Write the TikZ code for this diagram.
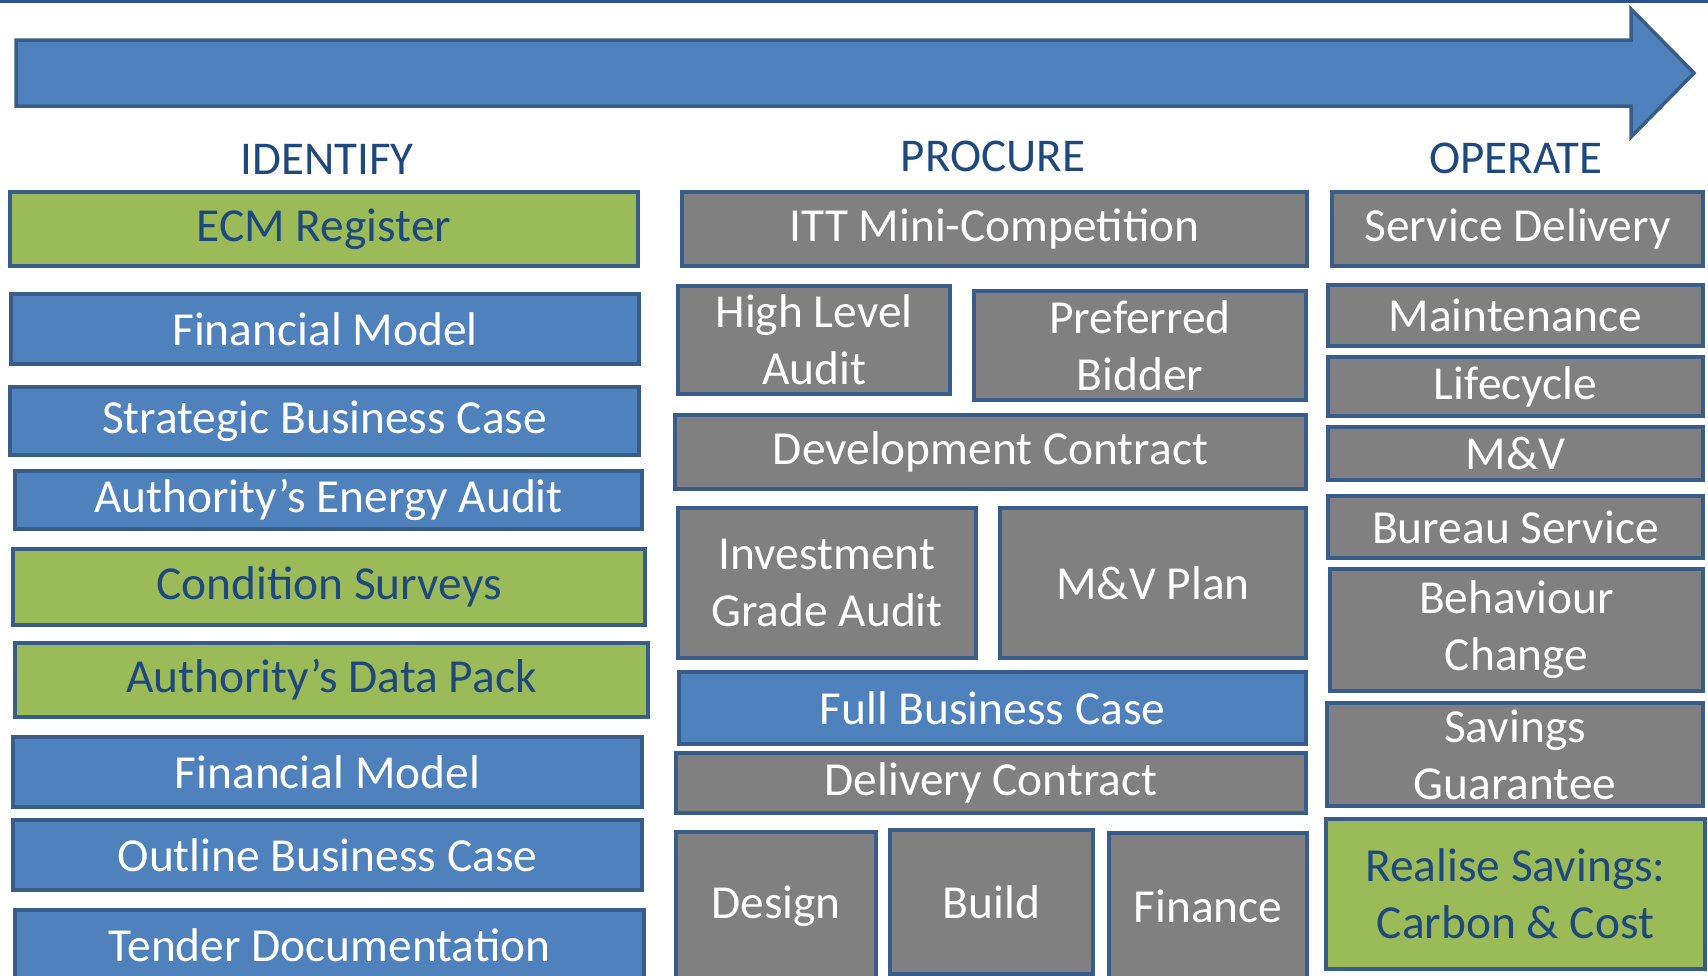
\documentclass[tikz,border=0pt]{standalone}
\usepackage{fontspec}
\setmainfont{Carlito}
\definecolor{bfill}{HTML}{4F81BD}
\definecolor{bdraw}{HTML}{385D8A}
\definecolor{gfill}{HTML}{9BBB59}
\definecolor{grfill}{HTML}{808080}
\definecolor{dtext}{HTML}{1F497D}
\definecolor{topline}{HTML}{2C4F8F}
\newcommand{\bx}[7][]{%
  \node[#1, minimum width={(#5-#3)*0.5pt}, minimum height={(#6-#4)*0.5pt}] (#2) at ({(#3+#5)/2},{(#4+#6)/2}) {#7};}
\begin{document}
\begin{tikzpicture}[x=0.5pt,y=-0.5pt,
  box/.style={draw=bdraw, line width=1.75pt, inner sep=0pt, align=center, font=\fontsize{23.7}{28.5}\selectfont},
  bluebox/.style={box, fill=bfill, text=white},
  greenbox/.style={box, fill=gfill, text=dtext},
  graybox/.style={box, fill=grfill, text=white},
  head/.style={text=dtext, inner sep=0pt, font=\fontsize{23.5}{28.5}\selectfont}]
\useasboundingbox (0,0) rectangle (1708,975);
\clip (0,0) rectangle (1708,975);
\fill[topline] (0,0) rectangle (1708,3);
% arrow
\draw[draw=bdraw, fill=bfill, line width=1.75pt, line join=miter]
  (16,40) -- (1631,40) -- (1631,9) -- (1694,73) -- (1631,137) -- (1631,106) -- (16,106) -- cycle;
% headers
\node[head] (hid) at (327,159) {IDENTIFY};
\node[head] (hpr) at (993,156) {PROCURE};
\node[head] (hop) at (1516,158) {OPERATE};
% IDENTIFY column
\bx[greenbox]{ecm}{10}{192}{638}{266}{ECM Register}
\bx[bluebox]{fm1}{11}{294}{639}{364}{Financial Model}
\bx[bluebox]{sbc}{10}{387}{639}{455}{Strategic Business Case}
\bx[bluebox]{aea}{15}{471}{642}{529}{Authority’s Energy Audit}
\bx[greenbox]{cs}{13}{549}{645}{625}{Condition Surveys}
\bx[greenbox]{adp}{15}{643}{648}{717}{Authority’s Data Pack}
\bx[bluebox]{fm2}{13}{737}{642}{807}{Financial Model}
\bx[bluebox]{obc}{13}{820}{642}{890}{Outline Business Case}
\bx[bluebox]{td}{15}{910}{644}{980}{Tender Documentation}
% PROCURE column
\bx[graybox]{itt}{682}{192}{1307}{266}{ITT Mini-Competition}
\bx[graybox]{hla}{678}{286}{950}{394}{High Level\\Audit}
\bx[graybox]{pb}{974}{291}{1306}{400}{Preferred\\Bidder}
\bx[graybox]{dc}{675}{415}{1306}{489}{Development Contract}
\bx[graybox]{iga}{678}{508}{976}{658}{Investment\\Grade Audit}
\bx[graybox]{mvp}{1000}{508}{1306}{658}{M\&V Plan}
\bx[bluebox]{fbc}{679}{672}{1306}{744}{Full Business Case}
\bx[graybox]{delc}{676}{753}{1306}{813}{Delivery Contract}
\bx[graybox]{des}{676}{832}{876}{980}{Design}
\bx[graybox]{bld}{890}{830}{1093}{974}{Build}
\bx[graybox]{fin}{1109}{833}{1307}{980}{Finance}
% OPERATE column
\bx[graybox]{sd}{1332}{192}{1703}{266}{Service Delivery}
\bx[graybox]{mnt}{1328}{285}{1703}{346}{Maintenance}
\bx[graybox]{lc}{1328}{357}{1703}{416}{Lifecycle}
\bx[graybox]{mv}{1328}{427}{1703}{480}{M\&V}
\bx[graybox]{bs}{1328}{496}{1703}{558}{Bureau Service}
\bx[graybox]{bc}{1330}{569}{1703}{691}{Behaviour\\Change}
\bx[graybox]{sg}{1327}{703}{1703}{806}{Savings\\Guarantee}
\bx[greenbox]{rs}{1326}{819}{1705}{969}{Realise Savings:\\Carbon \& Cost}
\end{tikzpicture}
\end{document}
